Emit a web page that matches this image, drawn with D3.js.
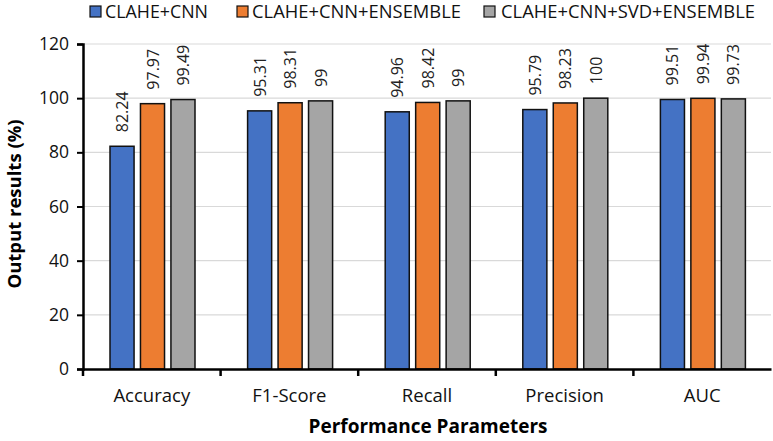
<!DOCTYPE html>
<html>
<head>
  <meta charset="UTF-8">
  <script src="https://d3js.org/d3.v7.min.js"></script>
  <style>
    body { margin: 0; background: #fff; }
    text { font-family: "Open Sans", "Noto Sans", sans-serif; }
  </style>
</head>
<body>
  <svg></svg>
<script>
  let width = 773,
    height = 441;

  let categories = ["Accuracy", "F1-Score", "Recall", "Precision", "AUC"];
  let seriesNames = ["CLAHE+CNN", "CLAHE+CNN+ENSEMBLE", "CLAHE+CNN+SVD+ENSEMBLE"];
  let clahe = [82.24, 95.31, 94.96, 95.79, 99.51];
  let ensemble = [97.97, 98.31, 98.42, 98.23, 99.94];
  let svdEnsemble = [99.49, 99, 99, 100, 99.73];
  let yTicks = [0, 20, 40, 60, 80, 100, 120];
  let colors = ["#4472C4", "#ED7D31", "#A5A5A5"];

  let series = [clahe, ensemble, svdEnsemble];

  let margin = { left: 83, right: 2, top: 44, bottom: 72 };

  let svg = d3.select("svg")
    .attr("width", width)
    .attr("height", height);

  let x0 = d3.scaleBand()
    .domain(categories)
    .range([margin.left, width - margin.right]);

  let x1 = d3.scaleBand()
    .domain([0, 1, 2])
    .range([27, 112])
    .paddingInner(0.21);

  let y = d3.scaleLinear()
    .domain([0, 120])
    .range([height - margin.bottom, margin.top]);

  // gridlines
  svg.append("g")
    .selectAll("line")
    .data(yTicks.slice(1))
    .enter()
    .append("line")
    .attr("x1", margin.left)
    .attr("x2", width - margin.right)
    .attr("y1", d => y(d))
    .attr("y2", d => y(d))
    .attr("stroke", "#d9d9d9")
    .attr("stroke-width", 1.2);

  // bars
  let groups = svg.append("g")
    .selectAll("g")
    .data(categories)
    .enter()
    .append("g")
    .attr("transform", d => "translate(" + x0(d) + ",0)");

  groups.selectAll("rect")
    .data((d, i) => series.map((s, k) => ({ k: k, v: s[i] })))
    .enter()
    .append("rect")
    .attr("x", d => x1(d.k))
    .attr("width", x1.bandwidth())
    .attr("y", d => y(d.v))
    .attr("height", d => y(0) - y(d.v))
    .attr("fill", d => colors[d.k])
    .attr("stroke", "#111")
    .attr("stroke-width", 1.5);

  groups.selectAll("text.val")
    .data((d, i) => series.map((s, k) => ({ k: k, v: s[i] })))
    .enter()
    .append("text")
    .attr("class", "val")
    .attr("transform", d => "translate(" + (x1(d.k) + x1.bandwidth() / 2 + 6) + "," + (y(d.v) - 14) + ") rotate(-90)")
    .attr("font-size", 16)
    .attr("fill", "#222")
    .text(d => d.v);

  // y axis
  let yAxis = svg.append("g")
    .attr("transform", "translate(" + margin.left + ",0)")
    .call(d3.axisLeft(y).tickValues(yTicks).tickSize(6).tickPadding(8));
  yAxis.select(".domain").attr("stroke", "#000").attr("stroke-width", 2.5);
  yAxis.selectAll(".tick line").attr("stroke", "#000").attr("stroke-width", 2);
  yAxis.selectAll("text")
    .attr("font-size", 17.5)
    .attr("fill", "#111")
    .style("font-family", "'Open Sans', sans-serif");

  // x axis
  let xAxis = svg.append("g")
    .attr("transform", "translate(0," + y(0) + ")")
    .call(d3.axisBottom(x0).tickSize(0).tickPadding(20));
  xAxis.select(".domain").attr("stroke", "#000").attr("stroke-width", 2.5);
  xAxis.selectAll("text")
    .attr("font-size", 18.5)
    .attr("fill", "#111")
    .style("font-family", "'Open Sans', sans-serif");

  // category separator ticks
  svg.append("g")
    .selectAll("line")
    .data(categories)
    .enter()
    .append("line")
    .attr("x1", d => x0(d))
    .attr("x2", d => x0(d))
    .attr("y1", y(0))
    .attr("y2", y(0) + 7)
    .attr("stroke", "#000")
    .attr("stroke-width", 2.5);

  // axis titles
  svg.append("text")
    .attr("x", 428)
    .attr("y", 433)
    .attr("text-anchor", "middle")
    .attr("font-size", 19)
    .attr("font-weight", "bold")
    .attr("fill", "#000")
    .text("Performance Parameters");

  svg.append("text")
    .attr("transform", "translate(21,204) rotate(-90)")
    .attr("text-anchor", "middle")
    .attr("font-size", 18.5)
    .attr("font-weight", "bold")
    .attr("fill", "#000")
    .text("Output results (%)");

  // legend
  let legendX = [90, 237, 484];
  let legendW = [103, 209, 254];
  let legend = svg.append("g")
    .selectAll("g")
    .data(seriesNames)
    .enter()
    .append("g")
    .attr("transform", (d, i) => "translate(" + legendX[i] + ",0)");

  legend.append("rect")
    .attr("width", 11)
    .attr("height", 11)
    .attr("y", 6)
    .attr("fill", (d, i) => colors[i])
    .attr("stroke", "#111")
    .attr("stroke-width", 1.2);

  legend.append("text")
    .attr("x", (d, i) => i == 2 ? 17 : 15)
    .attr("y", 18)
    .attr("font-size", 18)
    .attr("textLength", (d, i) => legendW[i])
    .attr("lengthAdjust", "spacingAndGlyphs")
    .attr("fill", "#111")
    .text(d => d);
</script>
</body>
</html>
